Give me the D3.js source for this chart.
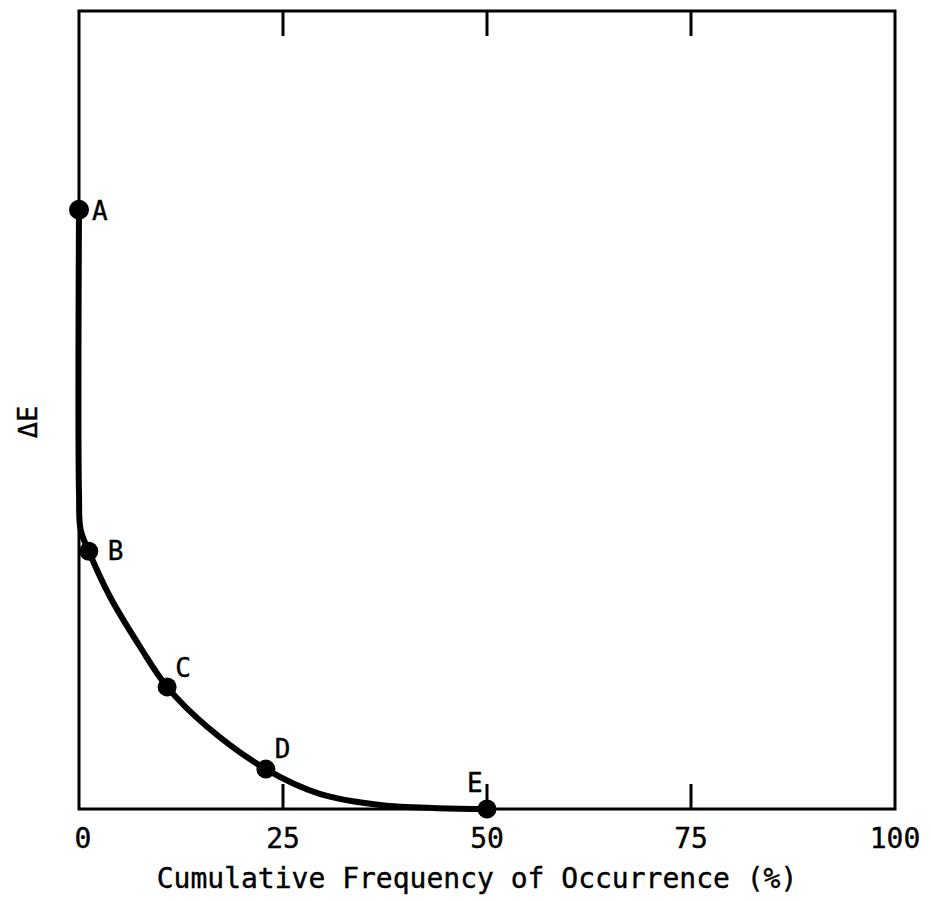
<!DOCTYPE html>
<html>
<head>
<meta charset="utf-8">
<script src="https://cdn.jsdelivr.net/npm/d3@7"></script>
<style>
  body { margin: 0; background: #fff; }
  text { font-family: "DejaVu Sans Mono", "Liberation Mono", monospace; fill: #000; stroke: #000; stroke-width: 0.4px; }
</style>
</head>
<body>
<div id="chart"></div>
<script>
// points on the curve (x = cumulative frequency %, y = ΔE, arbitrary units)
const pointNames = ["A", "B", "C", "D", "E"];
const pointX = [0, 1.2, 10.8, 22.9, 50];
const pointY = [75.1, 32.3, 15.3, 5.0, 0];

// curve
const curveX = [0, 0, 0.2, 1.2, 3.8, 7.5, 10.8, 15.7, 22.9, 29.5, 36.9, 44, 50];
const curveY = [75.1, 39.5, 35, 32.3, 26.6, 20.3, 15.3, 10.3, 5.0, 1.9, 0.5, 0.1, 0];

const xTicks = [0, 25, 50, 75, 100];

const width = 931, height = 901;
const margin = {left: 79, right: 36, top: 11, bottom: 92};

const svg = d3.select("#chart").append("svg")
    .attr("width", width)
    .attr("height", height);

const x = d3.scaleLinear().domain([0, 100]).range([margin.left, width - margin.right]);
const y = d3.scaleLinear().domain([0, 100]).range([height - margin.bottom, margin.top]);

// frame
svg.append("rect")
    .attr("x", x(0)).attr("y", y(100))
    .attr("width", x(100) - x(0)).attr("height", y(0) - y(100))
    .attr("fill", "none").attr("stroke", "#000").attr("stroke-width", 3);

// inward ticks, top and bottom
const inner = xTicks.slice(1, -1);
svg.append("g").selectAll("line").data(inner).join("line")
    .attr("x1", d => x(d)).attr("x2", d => x(d))
    .attr("y1", y(0)).attr("y2", y(0) - 25)
    .attr("stroke", "#000").attr("stroke-width", 3);
svg.append("g").selectAll("line").data(inner).join("line")
    .attr("x1", d => x(d)).attr("x2", d => x(d))
    .attr("y1", y(100)).attr("y2", y(100) + 25)
    .attr("stroke", "#000").attr("stroke-width", 3);

// tick labels
svg.append("g").selectAll("text").data(xTicks).join("text")
    .attr("x", d => x(d) + (d === 0 ? 4 : 0))
    .attr("y", y(0) + 39)
    .attr("text-anchor", "middle")
    .attr("font-size", 28)
    .text(d => d);

// axis titles
svg.append("text")
    .attr("x", (x(0) + x(100)) / 2 - 10)
    .attr("y", 888)
    .attr("text-anchor", "middle")
    .attr("font-size", 28)
    .text("Cumulative Frequency of Occurrence (%)");

svg.append("text")
    .attr("transform", "translate(37,422) rotate(-90)")
    .attr("text-anchor", "middle")
    .attr("font-size", 27)
    .text("ΔE");

// curve
const line = d3.line()
    .x(d => x(d[0]))
    .y(d => y(d[1]))
    .curve(d3.curveCatmullRom.alpha(0.5));

svg.append("path")
    .datum(curveX.map((v, i) => [v, curveY[i]]))
    .attr("d", line)
    .attr("fill", "none")
    .attr("stroke", "#000")
    .attr("stroke-width", 6)
    .attr("stroke-linecap", "round");

// points and labels
const pts = pointNames.map((n, i) => ({name: n, x: pointX[i], y: pointY[i]}));
const labelOffset = {A: [13, 10], B: [19, 9], C: [8, -10], D: [9, -11], E: [-20, -17]};

svg.append("g").selectAll("circle").data(pts).join("circle")
    .attr("cx", d => x(d.x)).attr("cy", d => y(d.y))
    .attr("r", d => d.name === "A" ? 10 : 9.5)
    .attr("fill", "#000");

svg.append("g").selectAll("text").data(pts).join("text")
    .attr("x", d => x(d.x) + labelOffset[d.name][0])
    .attr("y", d => y(d.y) + labelOffset[d.name][1])
    .attr("font-size", 26)
    .text(d => d.name);
</script>
</body>
</html>
